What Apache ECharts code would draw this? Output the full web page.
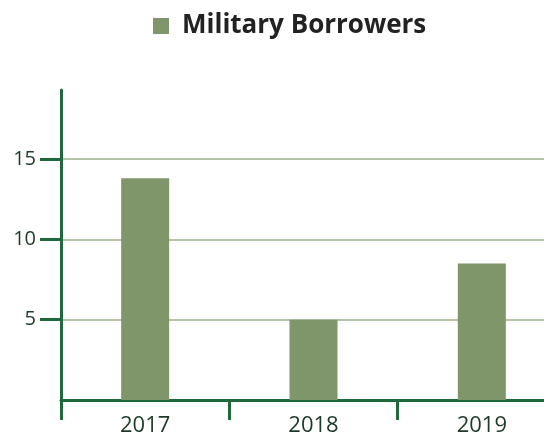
<!DOCTYPE html>
<html><head><meta charset="utf-8">
<script src="https://cdn.jsdelivr.net/npm/echarts@6/dist/echarts.min.js"></script>
<style>html,body{margin:0;padding:0;background:#fff}#c{width:544px;height:433px}</style>
</head><body><div id="c"></div>
<script>
const categories = ['2017', '2018', '2019'];
const militaryBorrowers = [13.8, 5.0, 8.5];
const seriesName = 'Military Borrowers';
const yTickValues = [5, 10, 15];

const axisColor = '#1f6a3c';
const chart = echarts.init(document.getElementById('c'));
chart.setOption({
  animation: false,
  legend: {
    data: [seriesName], left: 153, top: 13, padding: 0,
    itemWidth: 16, itemHeight: 16, icon: 'rect',
    textStyle: { fontFamily: 'Open Sans', fontWeight: 'bold', fontSize: 26, color: '#222', padding: [0, 0, 0, 8] }
  },
  grid: { left: 61, width: 505, top: 90, bottom: 33, containLabel: false, outerBoundsMode: 'none' },
  xAxis: {
    type: 'category', data: categories, boundaryGap: true,
    axisLine: { lineStyle: { color: axisColor, width: 3 } },
    axisTick: { show: true, length: 20, lineStyle: { color: axisColor, width: 3 } },
    axisLabel: { fontFamily: 'Open Sans', fontSize: 22, color: '#1d3a28', margin: 15 },
    splitLine: { show: false }
  },
  yAxis: {
    type: 'value', min: 0, max: 19.3, interval: 5,
    axisLine: { show: true, lineStyle: { color: axisColor, width: 3 } },
    axisTick: { show: true, length: 21, customValues: yTickValues, lineStyle: { color: axisColor, width: 3 } },
    axisLabel: {
      fontFamily: 'Open Sans', fontSize: 20, color: '#1d3a28', margin: 25,
      customValues: yTickValues
    },
    splitLine: { show: true, showMinLine: true, showMaxLine: true, lineStyle: { color: '#9db08c', width: 1.5 } }
  },
  series: [{
    name: seriesName, type: 'bar', data: militaryBorrowers, barWidth: 48,
    itemStyle: { color: '#7f966b' }
  }]
});
</script></body></html>
